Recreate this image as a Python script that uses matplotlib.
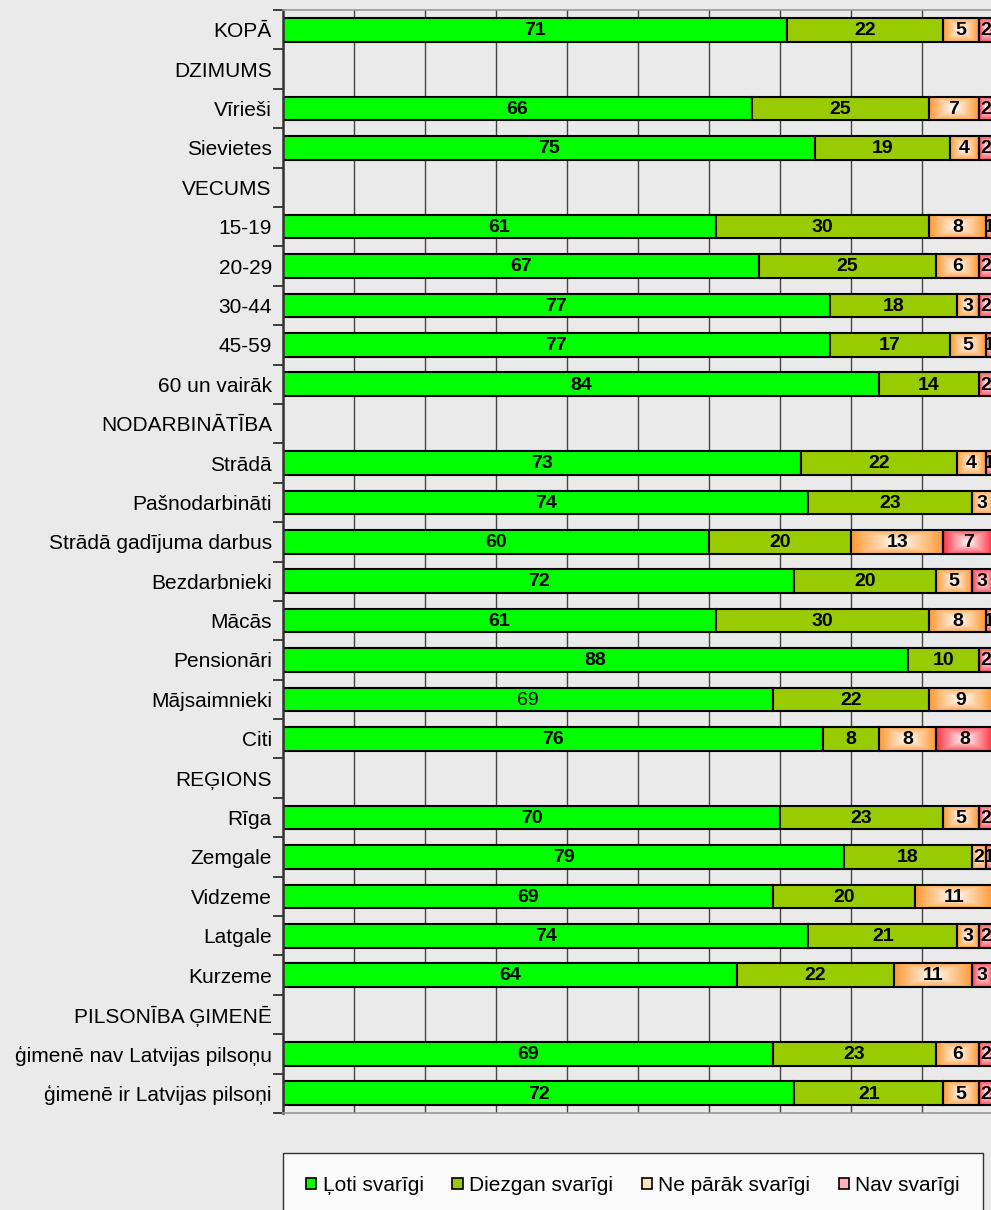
import numpy as np
import matplotlib.pyplot as plt
from matplotlib.colors import to_rgb

plt.rcParams['font.family'] = ['Liberation Sans', 'DejaVu Sans']

categories = ['KOPĀ', 'DZIMUMS', 'Vīrieši', 'Sievietes', 'VECUMS', '15-19', '20-29',
              '30-44', '45-59', '60 un vairāk', 'NODARBINĀTĪBA', 'Strādā',
              'Pašnodarbināti', 'Strādā gadījuma darbus', 'Bezdarbnieki', 'Mācās',
              'Pensionāri', 'Mājsaimnieki', 'Citi', 'REĢIONS', 'Rīga', 'Zemgale',
              'Vidzeme', 'Latgale', 'Kurzeme', 'PILSONĪBA ĢIMENĒ',
              'ģimenē nav Latvijas pilsoņu', 'ģimenē ir Latvijas pilsoņi']

# group header rows have no values (0 everywhere)
loti_svarigi = [71, 0, 66, 75, 0, 61, 67, 77, 77, 84, 0, 73, 74, 60, 72, 61, 88, 69, 76,
                0, 70, 79, 69, 74, 64, 0, 69, 72]
diezgan_svarigi = [22, 0, 25, 19, 0, 30, 25, 18, 17, 14, 0, 22, 23, 20, 20, 30, 10, 22, 8,
                   0, 23, 18, 20, 21, 22, 0, 23, 21]
ne_parak_svarigi = [5, 0, 7, 4, 0, 8, 6, 3, 5, 0, 0, 4, 3, 13, 5, 8, 0, 9, 8,
                    0, 5, 2, 11, 3, 11, 0, 6, 5]
nav_svarigi = [2, 0, 2, 2, 0, 1, 2, 2, 1, 2, 0, 1, 0, 7, 3, 1, 2, 0, 8,
               0, 2, 1, 0, 2, 3, 0, 2, 2]

series = [('Ļoti svarīgi', loti_svarigi),
          ('Diezgan svarīgi', diezgan_svarigi),
          ('Ne pārāk svarīgi', ne_parak_svarigi),
          ('Nav svarīgi', nav_svarigi)]

bg = '#EAEAEA'
bar_h = 0.6


def gradient_img(edge, n=60, m=20):
    # white centre fading out to the edge colour
    xx = np.linspace(-1, 1, n)
    yy = np.linspace(-1, 1, m)
    X, Y = np.meshgrid(xx, yy)
    t = np.maximum(np.abs(X), 0.8 * np.abs(Y)) ** 1.0
    t = np.clip(t, 0, 1)[..., None]
    e = np.array(to_rgb(edge))
    w = np.array([1.0, 1.0, 1.0])
    return w * (1 - t) + e * t


fig = plt.figure(figsize=(9.91, 12.10), dpi=100, facecolor=bg)
ax = fig.add_axes([283 / 991, 1 - 1113 / 1210, (991 - 283) / 991 + 0.002, (1113 - 10) / 1210])
ax.set_facecolor(bg)

y = np.arange(len(categories))
ax.set_xlim(0, 100)
ax.set_ylim(len(categories) - 0.5, -0.5)

for xv in range(10, 100, 10):
    ax.axvline(xv, color='#444444', lw=1.0, zorder=0)

flat = {'Ļoti svarīgi': '#00FF00', 'Diezgan svarīgi': '#99CC00'}
grad = {'Ne pārāk svarīgi': '#FF9933', 'Nav svarīgi': '#FF3344'}

left = np.zeros(len(categories))
for name, vals in series:
    vals = np.array(vals, dtype=float)
    for i, v in enumerate(vals):
        if v <= 0:
            continue
        x0 = left[i]
        if name in flat:
            ax.barh(i, v, left=x0, height=bar_h, color=flat[name],
                    edgecolor='black', linewidth=1.5, zorder=2)
        else:
            ax.imshow(gradient_img(grad[name]), extent=[x0, x0 + v, i + bar_h / 2, i - bar_h / 2],
                      aspect='auto', interpolation='bilinear', zorder=2)
            ax.barh(i, v, left=x0, height=bar_h, color='none',
                    edgecolor='black', linewidth=1.5, zorder=3)
        weight = 'normal' if (categories[i] == 'Mājsaimnieki' and name == 'Ļoti svarīgi') else 'bold'
        ax.text(x0 + v / 2, i + 0.02, f'{int(v)}', ha='center', va='center', fontsize=14,
                fontweight=weight, color='black', zorder=4, clip_on=True)
    left += vals

ax.set_yticks(y)
ax.set_yticklabels(categories, fontsize=15)
ax.set_yticks(np.arange(-0.5, len(categories), 1), minor=True)
ax.tick_params(axis='y', which='major', length=0, pad=8)
ax.tick_params(axis='y', which='minor', length=7, width=1.2, color='#222222')
ax.set_xticks([])

for s in ['top', 'bottom']:
    ax.spines[s].set_color('#999999')
    ax.spines[s].set_linewidth(1.2)
ax.spines['right'].set_visible(False)
ax.spines['left'].set_color('#333333')
ax.spines['left'].set_linewidth(1.8)

# legend box below the plot
handles = []
for name, _ in series:
    if name in flat:
        fc = flat[name]
    else:
        fc = '#FFE0C0' if name == 'Ne pārāk svarīgi' else '#FFB0B8'
    handles.append(plt.Rectangle((0, 0), 1, 1, facecolor=fc, edgecolor='black', linewidth=1.2))
leg_h = 0.06
leg = fig.legend(handles, [n for n, _ in series], loc='upper left',
                 bbox_to_anchor=(283 / 991, 1 - 1153 / 1210 - leg_h, (983 - 283) / 991, leg_h),
                 mode='expand', ncol=4, fontsize=15, frameon=True, fancybox=False,
                 handlelength=0.5, handleheight=0.5, handletextpad=0.3, columnspacing=1.2,
                 borderpad=1.1, edgecolor='black', borderaxespad=0)
leg.get_frame().set_facecolor('white')
leg.get_frame().set_linewidth(1.0)

fig.savefig('out.png', dpi=100, facecolor=bg)
